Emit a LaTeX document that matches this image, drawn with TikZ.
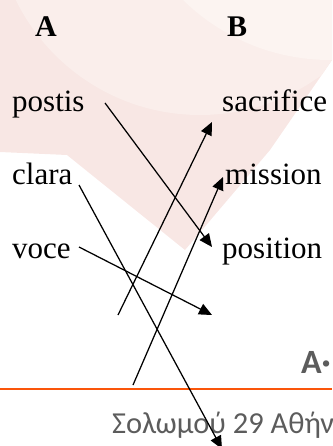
\documentclass[tikz,border=0pt]{standalone}
\usepackage{fontspec}
\setmainfont{Liberation Serif}
\newfontfamily\grfont{Carlito}
\usetikzlibrary{arrows.meta}
\definecolor{pinkA}{RGB}{248,231,228}
\definecolor{pinkB}{RGB}{250,238,235}
\definecolor{pinkC}{RGB}{252,244,241}
\definecolor{lineorange}{RGB}{250,85,10}
\definecolor{txtgray}{RGB}{92,92,92}
\tikzset{
  word/.style={anchor=base west,inner sep=0pt,font=\fontsize{31}{37}\selectfont},
  head/.style={anchor=base west,inner sep=0pt,font=\fontsize{30}{36}\selectfont\bfseries},
  link/.style={line width=1.25pt,-{Triangle[length=13pt,width=11.5pt]}},
}
\begin{document}
\begin{tikzpicture}[x=1pt,y=-1pt]
\useasboundingbox (0,0) rectangle (332,446);
\begin{scope}
  \clip (0,0) rectangle (332,446);
  \fill[pinkA] (0,0) -- (332,0) -- (332,60) -- (270,150) -- (185,250) -- (67,155) -- (0,152) -- cycle;
  \begin{scope}
    \clip (0,0) -- (332,0) -- (332,60) -- (270,150) -- (185,250) -- (67,155) -- (0,152) -- cycle;
    \fill[pinkB] (200,-90) circle[radius=205];
    \fill[pinkC] (330,-150) circle[radius=210];
  \end{scope}
\end{scope}
% headers
\node[head] (hA) at (35,37) {A};
\node[head] (hB) at (227,37) {B};
% words
\node[word] (postis) at (12,112) {postis};
\node[word] (clara) at (12,185) {clara};
\node[word] (voce) at (12,258) {voce};
\node[word] (sacrifice) at (222,112) {sacrifice};
\node[word] (mission) at (225,185) {mission};
\node[word] (position) at (222,258) {position};
% footer
\draw[lineorange,line width=2pt] (0,389) coordinate (l1) -- (332,389) coordinate (l2);
\node[anchor=base east,inner sep=0pt,text=txtgray,font=\grfont\fontsize{34}{40}\selectfont\bfseries] (logo) at (331,373) {Α·};
\node[anchor=base west,inner sep=0pt,text=txtgray,font=\grfont\fontsize{30.5}{36}\selectfont] (addr) at (112,433) {Σολωμού 29 Αθήνα};
% connector end points
\coordinate (s1) at (105,103);
\coordinate (e1) at (212,247);
\coordinate (s2) at (118,315);
\coordinate (e2) at (212,122);
\coordinate (s3) at (133,385);
\coordinate (e3) at (223,177);
\coordinate (s4) at (79,185);
\coordinate (e4) at (222,449);
\coordinate (s5) at (79,247);
\coordinate (e5) at (212,315);
\begin{scope}
  \clip (0,0) rectangle (332,446);
  \draw[link] (s1) -- (e1);
  \draw[link] (s2) -- (e2);
  \draw[link] (s3) -- (e3);
  \draw[link] (s4) -- (e4);
  \draw[link] (s5) -- (e5);
\end{scope}
\end{tikzpicture}
\end{document}
